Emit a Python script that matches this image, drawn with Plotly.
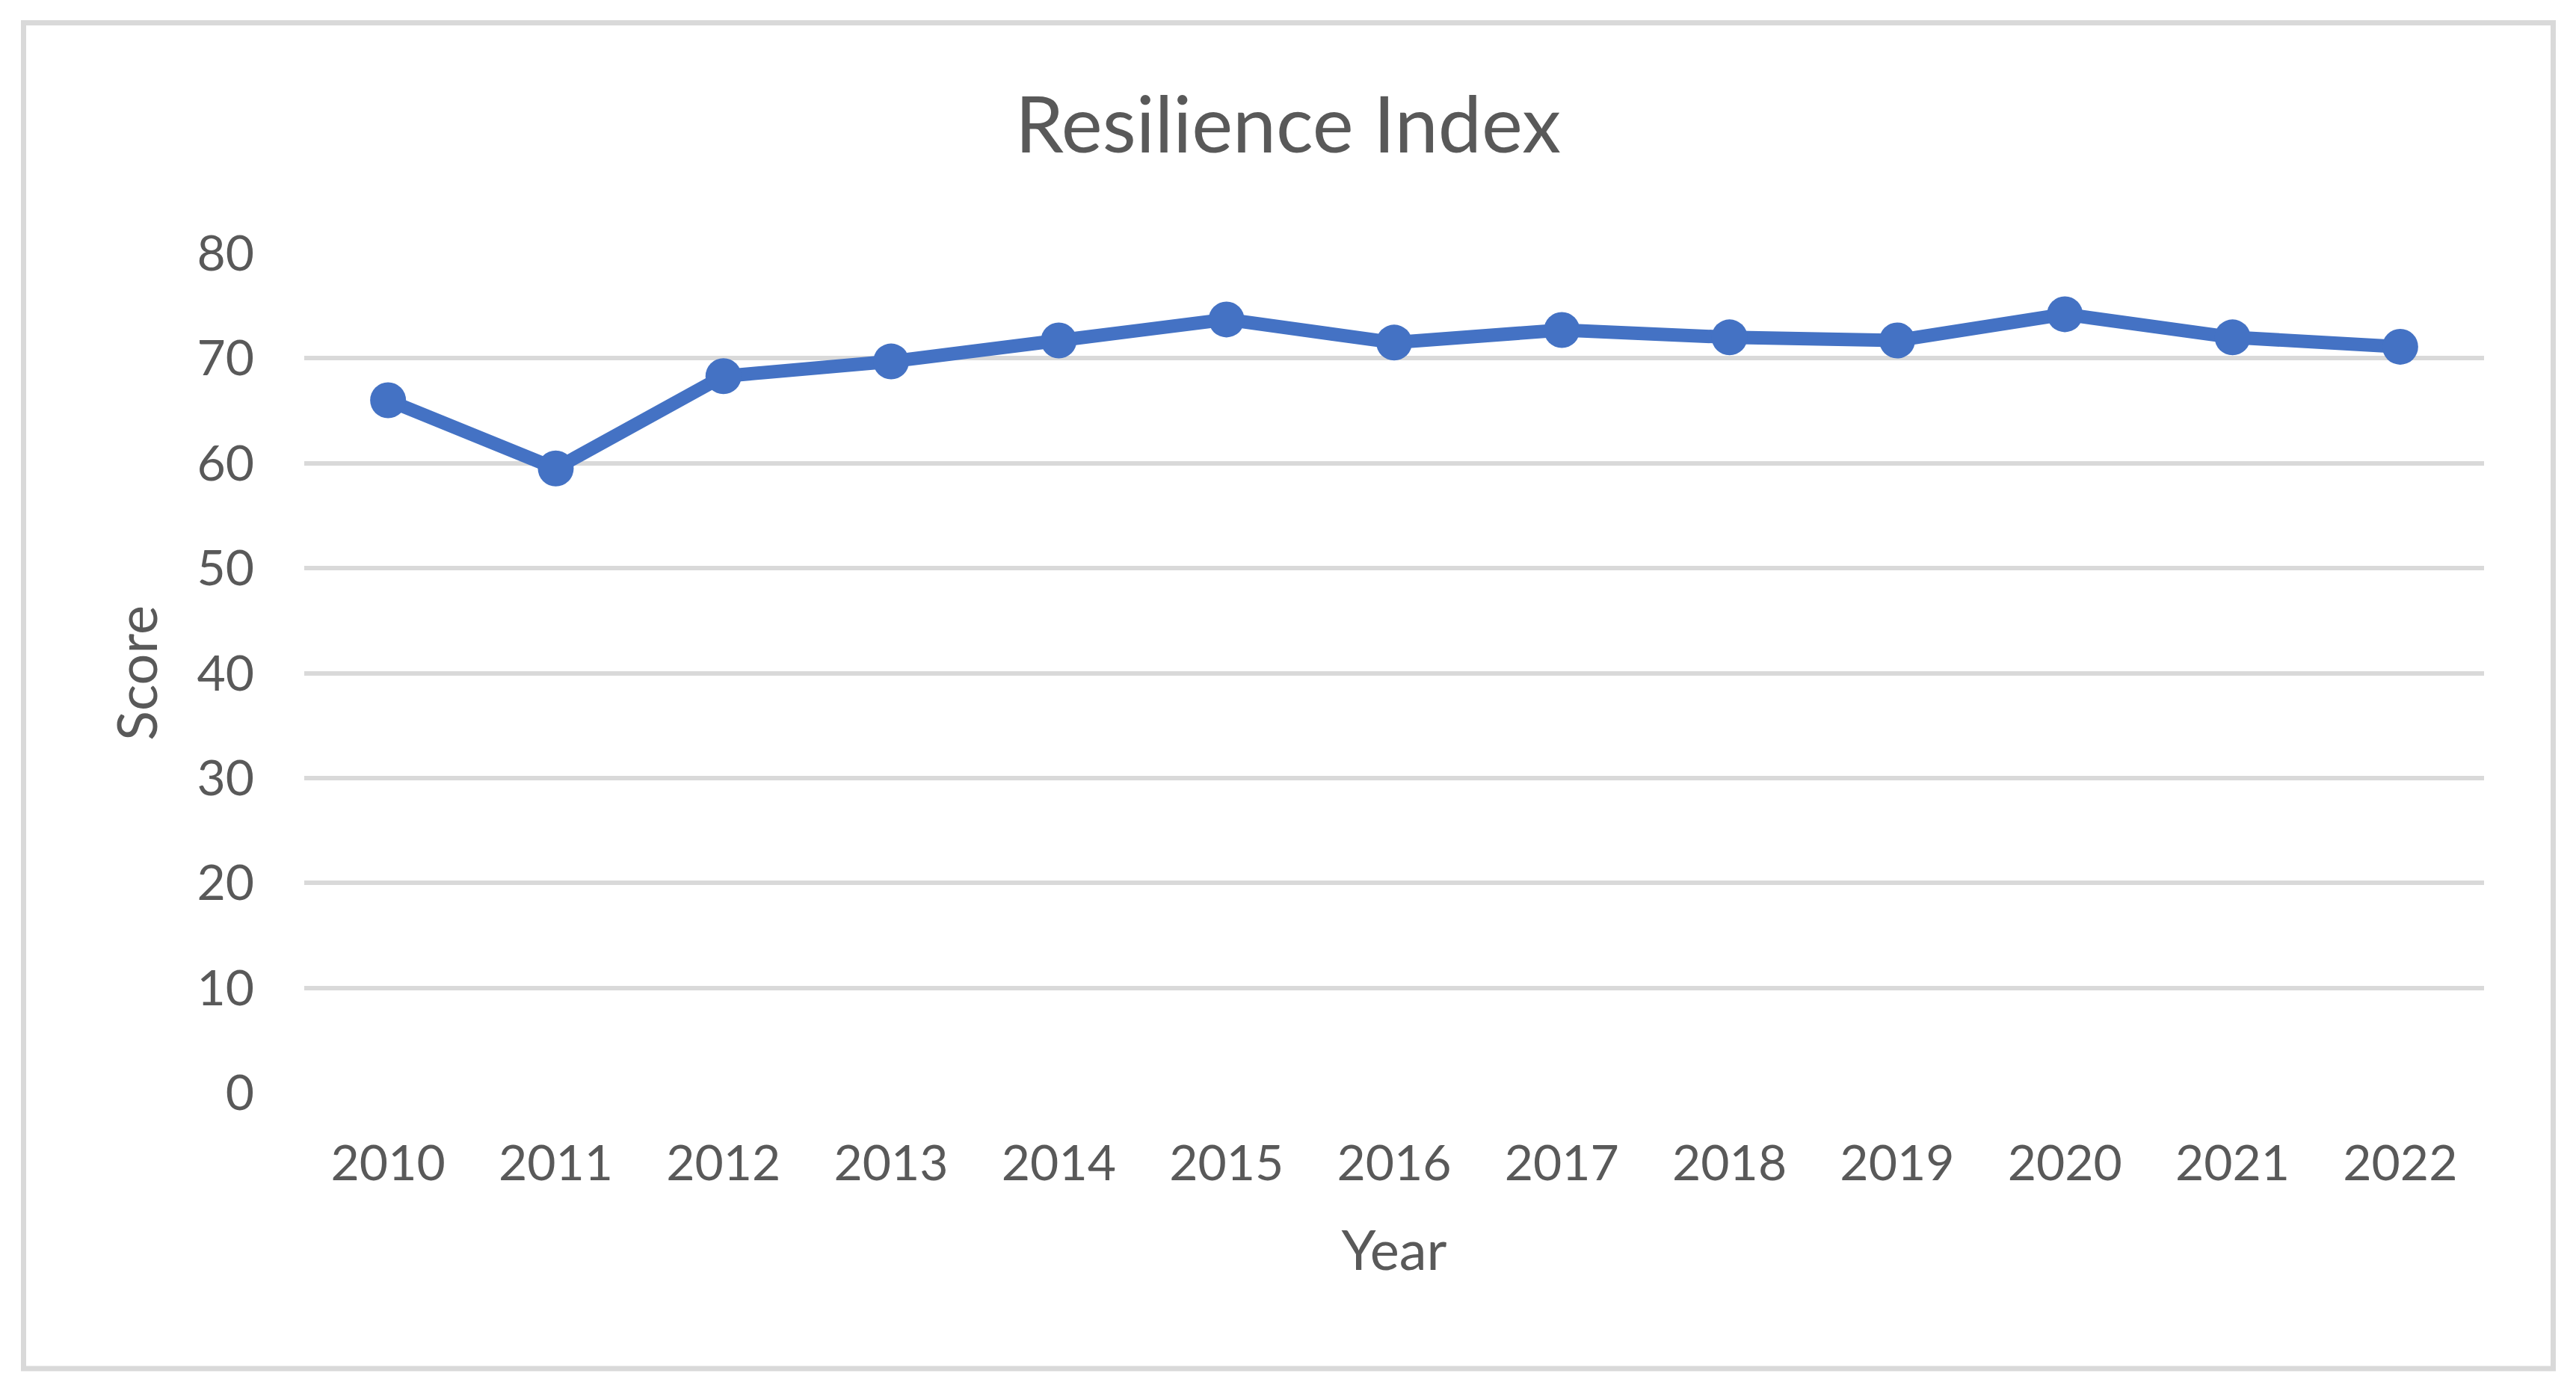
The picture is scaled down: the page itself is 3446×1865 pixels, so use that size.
import plotly.graph_objects as go

years = ["2010", "2011", "2012", "2013", "2014", "2015", "2016",
         "2017", "2018", "2019", "2020", "2021", "2022"]
scores = [66.0, 59.5, 68.3, 69.7, 71.7, 73.7, 71.5, 72.7, 72.0, 71.7, 74.2, 72.0, 71.1]
y_ticks = [0, 10, 20, 30, 40, 50, 60, 70, 80]

W, H = 3446, 1865
L, R, T, B = 407, 123, 339, 403
pw, ph = W - L - R, H - T - B

TEXT = "#595959"
GRID = "#D9D9D9"
BLUE = "#4472C4"
FONT = "Lato"

fig = go.Figure(
    go.Scatter(
        x=years, y=scores, mode="lines+markers",
        line=dict(color=BLUE, width=18),
        marker=dict(color=BLUE, size=48, line=dict(width=0)),
        showlegend=False, hoverinfo="x+y",
    )
)

def px_x(p):
    return (p - L) / pw

def px_y(p):
    return (H - B - p) / ph

fig.add_shape(type="rect", xref="paper", yref="paper",
              x0=px_x(31.5), x1=px_x(3415.5), y0=px_y(1831), y1=px_y(30.5),
              line=dict(color=GRID, width=7), fillcolor="rgba(0,0,0,0)", layer="below")

fig.update_layout(
    width=W, height=H,
    margin=dict(l=L, r=R, t=T, b=B, pad=0),
    paper_bgcolor="white", plot_bgcolor="white",
    font=dict(family=FONT, color=TEXT),
    title=dict(text="Resilience Index", x=0.5, xanchor="center",
               xref="container", yref="container", y=1 - 168 / H, yanchor="middle",
               font=dict(size=104, color=TEXT, family=FONT)),
    xaxis=dict(
        type="category", range=[-0.5, len(years) - 0.5],
        showgrid=False, zeroline=False, showline=False, ticks="",
        tickfont=dict(size=66, color=TEXT), ticklabelstandoff=50,
        title=dict(text="Year", font=dict(size=74, color=TEXT), standoff=55),
    ),
    yaxis=dict(
        range=[0, 80], tickvals=y_ticks, ticktext=[str(v) for v in y_ticks],
        showgrid=True, gridcolor=GRID, gridwidth=6,
        zeroline=False, showline=False, ticks="",
        tickfont=dict(size=66, color=TEXT), ticklabelstandoff=66,
        title=dict(text="Score", font=dict(size=74, color=TEXT), standoff=28),
    ),
)

fig.write_html("out.html", config={"displayModeBar": False},
               post_script="document.body.style.margin='0';")
